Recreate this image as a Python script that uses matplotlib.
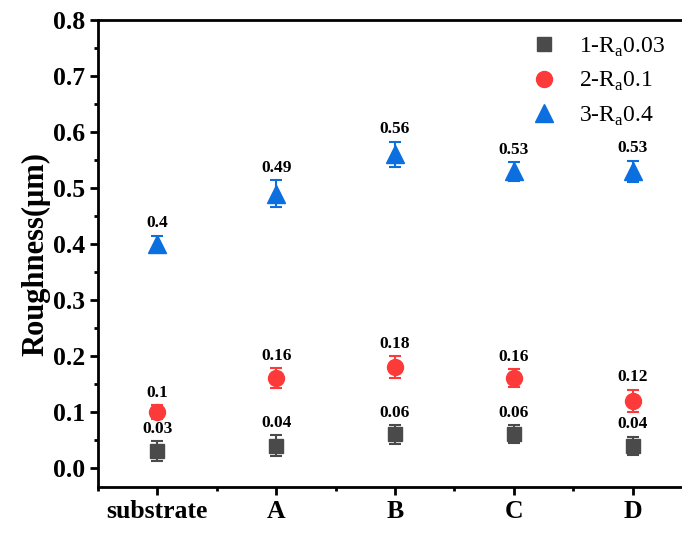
import matplotlib.pyplot as plt
from matplotlib.ticker import MultipleLocator, AutoMinorLocator

plt.rcParams['font.family'] = ['Liberation Serif', 'DejaVu Serif']
plt.rcParams['mathtext.fontset'] = 'custom'
plt.rcParams['mathtext.rm'] = 'Liberation Serif'

samples = ["substrate", "A", "B", "C", "D"]
names = [r"1-R$_\mathregular{a}$0.03", r"2-R$_\mathregular{a}$0.1", r"3-R$_\mathregular{a}$0.4"]
ra003 = [0.03, 0.04, 0.06, 0.06, 0.04]
ra003_err = [0.018, 0.018, 0.017, 0.016, 0.016]
ra01 = [0.10, 0.16, 0.18, 0.16, 0.12]
ra01_err = [0.013, 0.018, 0.02, 0.016, 0.02]
ra04 = [0.40, 0.49, 0.56, 0.53, 0.53]
ra04_err = [0.015, 0.024, 0.023, 0.017, 0.019]

series = [ra003, ra01, ra04]
errors = [ra003_err, ra01_err, ra04_err]
colors = ["#4a4a4a", "#fd3a3a", "#0b6fe0"]
markers = ["s", "o", "^"]
sizes = [10, 11.5, 13]

fig = plt.figure(figsize=(6.82, 5.33), dpi=100)
# right end of the axes lies just past the picture edge, as in the original
ax = fig.add_axes([98 / 682, 1 - 487 / 533, (692 - 98) / 682, (487 - 20) / 533])

x = list(range(1, len(samples) + 1))
for s, e, c, m, ms, name in zip(series, errors, colors, markers, sizes, names):
    ax.errorbar(x, s, yerr=e, fmt="none", ecolor=c, capsize=4.5,
                elinewidth=1.5, capthick=1.5)
    ax.plot(x, s, m, color=c, ms=ms, mec=c, linestyle="none", label=name)
    for xi, v, err in zip(x, s, e):
        ax.annotate(f"{v:g}", (xi, v + err), xytext=(0, 3), textcoords="offset points",
                    ha="center", va="bottom", fontsize=12.5, fontweight="bold")

ax.set_xlim(0.5, 5.5)
ax.set_ylim(-0.034, 0.8)
ax.set_xticks(x)
ax.set_xticklabels(samples)
ax.xaxis.set_minor_locator(MultipleLocator(0.5))
ax.yaxis.set_major_locator(MultipleLocator(0.1))
ax.yaxis.set_minor_locator(AutoMinorLocator(2))
ax.set_ylabel("Roughness(μm)", fontsize=22, fontweight="bold", labelpad=2)

for side in ["left", "bottom", "top"]:
    ax.spines[side].set_linewidth(2)
ax.spines["right"].set_visible(False)
ax.tick_params(which="major", length=6, width=2, labelsize=18.5, pad=3)
ax.tick_params(which="minor", length=3, width=2)
for lab in ax.get_xticklabels() + ax.get_yticklabels():
    lab.set_fontweight("bold")

ax.legend(loc="upper right", bbox_to_anchor=(675 / 682, 1 - 26 / 533),
          bbox_transform=fig.transFigure, borderaxespad=0, frameon=False, fontsize=17,
          handletextpad=0.7, labelspacing=0.48, handlelength=1.6)

fig.savefig("out.png", dpi=100)
